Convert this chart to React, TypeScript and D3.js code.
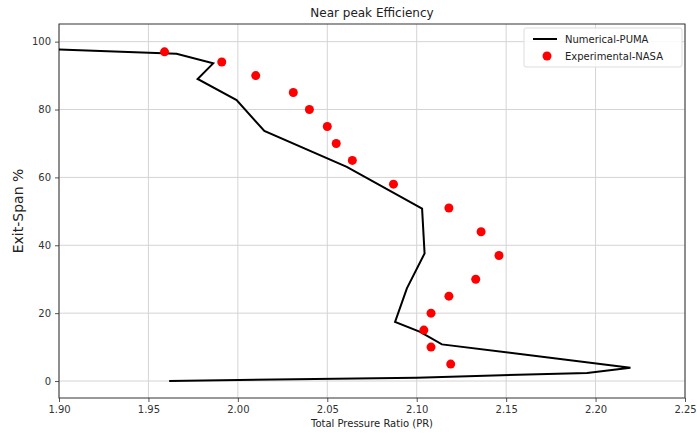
import React, { useEffect, useRef } from 'react';
import * as d3 from 'd3';

// Numerical-PUMA line (pressure ratio, span %)
const pumaPR = [1.900, 1.9657, 1.9862, 1.9775, 1.9993, 2.0148, 2.0609, 2.1030, 2.1044, 2.0945, 2.0879, 2.1019, 2.1141, 2.2195, 2.1953, 2.1000, 1.9616];
const pumaSpan = [97.7, 96.4, 93.6, 89.0, 82.8, 73.7, 63.1, 50.8, 37.6, 27.3, 17.4, 14.5, 10.8, 3.9, 2.4, 1.0, 0.0];

// Experimental-NASA points
const nasaPR = [1.959, 1.991, 2.010, 2.031, 2.040, 2.050, 2.055, 2.064, 2.087, 2.118, 2.136, 2.146, 2.133, 2.118, 2.108, 2.104, 2.108, 2.119];
const nasaSpan = [97, 94, 90, 85, 80, 75, 70, 65, 58, 51, 44, 37, 30, 25, 20, 15, 10, 5];

const xTicks = [1.9, 1.95, 2.0, 2.05, 2.1, 2.15, 2.2, 2.25];
const yTicks = [0, 20, 40, 60, 80, 100];

export default function App() {
    const ref = useRef<SVGSVGElement>(null);

    useEffect(() => {
        const width = 697, height = 436;
        const margin = { top: 24, right: 12, bottom: 38, left: 59 };
        const w = width - margin.left - margin.right;
        const h = height - margin.top - margin.bottom;

        const svg = d3.select(ref.current);
        svg.selectAll('*').remove();
        const font = 'DejaVu Sans, sans-serif';

        const x = d3.scaleLinear().domain([1.9, 2.25]).range([0, w]);
        const y = d3.scaleLinear().domain([-5, 105.2]).range([h, 0]);

        svg.append('defs').append('clipPath').attr('id', 'clip')
            .append('rect').attr('width', w).attr('height', h);

        const g = svg.append('g').attr('transform', `translate(${margin.left},${margin.top})`);

        // grid
        g.append('g').selectAll('line').data(xTicks).enter().append('line')
            .attr('x1', d => x(d)).attr('x2', d => x(d)).attr('y1', 0).attr('y2', h)
            .attr('stroke', '#d4d4d4').attr('stroke-width', 1);
        g.append('g').selectAll('line').data(yTicks).enter().append('line')
            .attr('y1', d => y(d)).attr('y2', d => y(d)).attr('x1', 0).attr('x2', w)
            .attr('stroke', '#d4d4d4').attr('stroke-width', 1);

        // axes
        const xAxis = g.append('g').attr('transform', `translate(0,${h})`)
            .call(d3.axisBottom(x).tickValues(xTicks).tickFormat(d3.format('.2f')).tickSize(4).tickPadding(4));
        const yAxis = g.append('g')
            .call(d3.axisLeft(y).tickValues(yTicks).tickSize(4).tickPadding(4));
        [xAxis, yAxis].forEach(a => {
            a.select('.domain').remove();
            a.selectAll('line').attr('stroke', '#555');
            a.selectAll('text').attr('font-family', font).attr('font-size', 10).attr('fill', '#333');
        });

        // frame
        g.append('rect').attr('width', w).attr('height', h)
            .attr('fill', 'none').attr('stroke', '#333').attr('stroke-width', 1);

        // data
        const plot = g.append('g').attr('clip-path', 'url(#clip)');
        const line = d3.line<number>().x(i => x(pumaPR[i])).y(i => y(pumaSpan[i]));
        plot.append('path').attr('d', line(d3.range(pumaPR.length)))
            .attr('fill', 'none').attr('stroke', '#000').attr('stroke-width', 2)
            .attr('stroke-linejoin', 'miter');

        plot.selectAll('circle').data(d3.range(nasaPR.length)).enter().append('circle')
            .attr('cx', i => x(nasaPR[i])).attr('cy', i => y(nasaSpan[i]))
            .attr('r', 4.5).attr('fill', '#ff0000');

        // title + labels
        svg.append('text').attr('x', margin.left + w / 2).attr('y', 17).attr('text-anchor', 'middle')
            .attr('font-family', font).attr('font-size', 12).attr('fill', '#222').text('Near peak Efficiency');
        svg.append('text').attr('x', margin.left + w / 2).attr('y', 427).attr('text-anchor', 'middle')
            .attr('font-family', font).attr('font-size', 10).attr('fill', '#222').text('Total Pressure Ratio (PR)');
        svg.append('text').attr('transform', `translate(23,${margin.top + h / 2}) rotate(-90)`)
            .attr('text-anchor', 'middle').attr('font-family', font).attr('font-size', 14).attr('fill', '#222')
            .text('Exit-Span %');

        // legend
        const lg = svg.append('g').attr('transform', 'translate(524,28)');
        lg.append('rect').attr('width', 158).attr('height', 39).attr('rx', 2)
            .attr('fill', 'rgba(255,255,255,0.85)').attr('stroke', '#ddd');
        lg.append('line').attr('x1', 9).attr('x2', 33).attr('y1', 11).attr('y2', 11)
            .attr('stroke', '#000').attr('stroke-width', 2);
        lg.append('circle').attr('cx', 23).attr('cy', 28).attr('r', 4.5).attr('fill', '#ff0000');
        lg.append('text').attr('x', 41).attr('y', 15).attr('font-family', font).attr('font-size', 10)
            .attr('fill', '#222').text('Numerical-PUMA');
        lg.append('text').attr('x', 41).attr('y', 32).attr('font-family', font).attr('font-size', 10)
            .attr('fill', '#222').text('Experimental-NASA');
    }, []);

    return <svg ref={ref} width={697} height={436} style={{ position: 'absolute', left: 0, top: 0, background: '#fff' }} />;
}
